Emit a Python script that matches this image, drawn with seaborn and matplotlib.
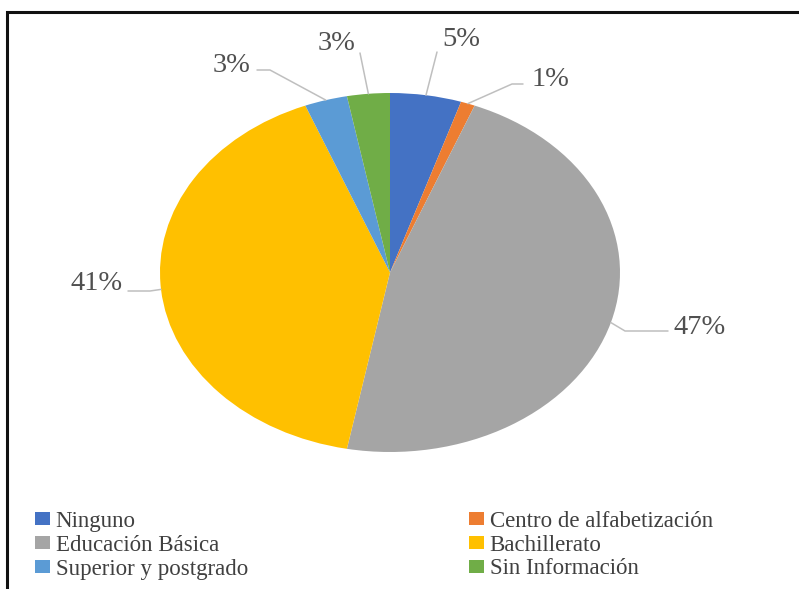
import matplotlib
matplotlib.use("Agg")
import matplotlib.pyplot as plt
import seaborn as sns
import numpy as np
from matplotlib.patches import Rectangle, Patch

# Education level distribution
categories = ["Ninguno", "Centro de alfabetización", "Educación Básica",
              "Bachillerato", "Superior y postgrado", "Sin Información"]
values = [5, 1, 47, 41, 3, 3]
value_labels = ["5%", "1%", "47%", "41%", "3%", "3%"]
hex_colors = ["#4472C4", "#ED7D31", "#A5A5A5", "#FFC000", "#5B9BD5", "#70AD47"]

sns.set_theme(style="white")
plt.rcParams["font.family"] = ["Liberation Serif", "DejaVu Serif"]
palette = sns.color_palette(hex_colors)

W, H = 799, 589
fig = plt.figure(figsize=(W / 100, H / 100), dpi=100)
fig.patch.set_facecolor("white")

# pie geometry in pixels: centre and semi-axes of the stretched pie
cx, cy, rx, ry = 390.0, 272.5, 230.0, 179.5

def px(x, y):
    """pixel position (from top-left) -> pie data units"""
    return ((x - cx) / rx, (cy - y) / ry)

ax = fig.add_axes([0, 0, 1, 1])
wedges, _ = ax.pie(values, colors=palette, startangle=90, counterclock=False,
                   wedgeprops=dict(linewidth=0, edgecolor="none"))
ax.set_aspect("auto")
ax.set_xlim(-cx / rx, (W - cx) / rx)
ax.set_ylim(-(H - cy) / ry, cy / ry)
ax.axis("off")

# label centres and leader-line start/elbow points (pixels)
label_pos = [(461, 40), (550, 79), (700, 328), (97, 284), (232, 66), (337, 44)]
leader_pts = [
    [(437, 52)],
    [(523, 84), (512, 84)],
    [(668, 331), (625, 331)],
    [(128, 291), (150, 291)],
    [(257, 70), (270, 70)],
    [(360, 53)],
]

line_col = "#BFBFBF"
text_col = "#505050"
for w, lab, pos, pts in zip(wedges, value_labels, label_pos, leader_pts):
    mid = np.deg2rad((w.theta1 + w.theta2) / 2)
    edge = (np.cos(mid), np.sin(mid))
    path = [px(*p) for p in pts] + [edge]
    xs, ys = zip(*path)
    ax.plot(xs, ys, color=line_col, lw=1.1, solid_capstyle="round", zorder=1)
    tx, ty = px(*pos)
    ax.text(tx, ty, lab, ha="center", va="center", fontsize=20.5,
            color=text_col, zorder=3)

# outer frame
fig.add_artist(Rectangle((7 / W, -0.05), 1.1, 1 - 12 / H + 0.05,
                         transform=fig.transFigure, fill=False,
                         edgecolor="#111111", lw=2.2))

# legend in two columns, row-wise order
handles = [Patch(facecolor=c, edgecolor="none") for c in palette]
leg_kw = dict(frameon=False, fontsize=16.5, loc="upper left", borderpad=0,
              borderaxespad=0, handlelength=0.65, handleheight=0.5,
              handletextpad=0.25, labelspacing=0.12, labelcolor="#404040")
left_idx, right_idx = [0, 2, 4], [1, 3, 5]
leg1 = fig.legend([handles[i] for i in left_idx], [categories[i] for i in left_idx],
                  bbox_to_anchor=(35 / W, 1 - 511 / H), **leg_kw)
leg2 = fig.legend([handles[i] for i in right_idx], [categories[i] for i in right_idx],
                  bbox_to_anchor=(469 / W, 1 - 511 / H), **leg_kw)

fig.savefig("out.png", dpi=100)
